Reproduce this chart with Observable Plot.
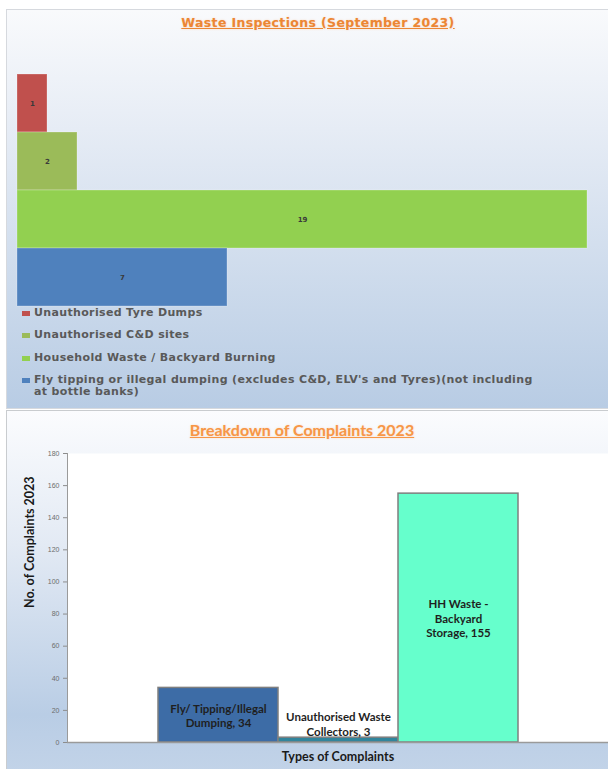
<!DOCTYPE html>
<html>
<head>
<meta charset="utf-8">
<script src="https://cdn.jsdelivr.net/npm/d3@7"></script>
<script src="https://cdn.jsdelivr.net/npm/@observablehq/plot@0.6"></script>
<style>
  html, body { margin: 0; padding: 0; background: #fff; }
  #wrap { position: relative; width: 608px; height: 769px; overflow: hidden; background: #fff; }
  .abs { position: absolute; }
  .panel1 { left: 6px; top: 9px; width: 620px; height: 398px; border: 1px solid #d6d9de;
            background: linear-gradient(#f9fafc 0%, #e6ecf5 30%, #b8cce4 100%); }
  .panel2 { left: 6px; top: 410px; width: 620px; height: 380px; border: 1px solid #c9cccf; border-bottom: none;
            background: linear-gradient(#fbfcfe 0%, #e3eaf4 35%, #b9cde5 80%, #c5d5e9 100%); }
  .title1 { left: 60px; width: 516px; top: 15px; text-align: center; font: bold 12.5px "DejaVu Sans", sans-serif;
            letter-spacing: 0.35px; color: #ec8634; text-decoration: underline; text-shadow: 0 0 2px rgba(247,150,70,0.35); }
  .title2 { left: 100px; width: 404px; top: 420px; text-align: center; font: bold 16px Lato, sans-serif;
            color: #f79646; text-decoration: underline; text-shadow: 0 0 2px rgba(247,150,70,0.35); }
  .leg { font: bold 11px "DejaVu Sans", sans-serif; letter-spacing: 0.35px; color: #595959; line-height: 12px; }
  .sw { position: absolute; width: 8px; height: 5px; }
  .chart svg { overflow: visible; background: transparent; }
</style>
</head>
<body>
<div id="wrap">
  <div class="abs panel1"></div>
  <div class="abs panel2"></div>
  <div class="abs title1">Waste Inspections (September 2023)</div>
  <div class="abs title2">Breakdown of Complaints 2023</div>
  <div id="chart1" class="abs chart" style="left:6px;top:9px;"></div>
  <div id="legend1"></div>
  <div id="chart2" class="abs chart" style="left:6px;top:411px;"></div>
</div>
<script>
// ---- Data: Waste Inspections (September 2023)
const inspCategories = [
  "Unauthorised Tyre Dumps",
  "Unauthorised C&D sites",
  "Household Waste / Backyard Burning",
  "Fly tipping or illegal dumping (excludes C&D, ELV's and Tyres)(not including at bottle banks)"
];
const inspValues = [1, 2, 19, 7];
const inspColors = ["#c0504d", "#9bbb59", "#92d050", "#4f81bd"];

// ---- Data: Breakdown of Complaints 2023
const complaintCategories = [
  "Fly/ Tipping/Illegal\nDumping",
  "Unauthorised Waste\nCollectors",
  "HH Waste -\nBackyard\nStorage"
];
const complaintValues = [34, 3, 155];
const complaintColors = ["#3d6ca6", "#31859c", "#66ffcc"];
const complaintTicks = [0, 20, 40, 60, 80, 100, 120, 140, 160, 180];

const insp = inspCategories.map((c, i) => ({cat: c, value: inspValues[i]}));
const comp = complaintCategories.map((c, i) => ({cat: c, value: complaintValues[i]}));

// ---- Chart 1
const chart1 = Plot.plot({
  width: 602,
  height: 300,
  marginLeft: 11,
  marginRight: 21,
  marginTop: 64,
  marginBottom: 3,
  style: {background: "transparent", overflow: "visible"},
  x: {domain: [0, 19], axis: null},
  y: {domain: inspCategories, axis: null, padding: 0},
  color: {domain: inspCategories, range: inspColors},
  marks: [
    Plot.barX(insp, {y: "cat", x: "value", fill: "cat", stroke: "#ffffff", strokeOpacity: 0.25, strokeWidth: 1}),
    Plot.text(insp, {y: "cat", x: d => d.value / 2, text: d => String(d.value),
      fontSize: 7, fontWeight: "bold", fill: "#3a3a3a", fontFamily: "DejaVu Sans"})
  ]
});
document.getElementById("chart1").appendChild(chart1);

// ---- Legend 1 (HTML, built from the data arrays)
const leg = document.getElementById("legend1");
inspCategories.forEach((c, i) => {
  const top = 306.5 + i * 22.5;
  const sw = document.createElement("div");
  sw.className = "sw";
  sw.style.left = "22px";
  sw.style.top = (top + 4) + "px";
  sw.style.background = inspColors[i];
  leg.appendChild(sw);
  const t = document.createElement("div");
  t.className = "abs leg";
  t.style.left = "34px";
  t.style.top = top + "px";
  t.style.width = "508px";
  t.textContent = c;
  leg.appendChild(t);
});

// ---- Chart 2
const chart2 = Plot.plot({
  width: 602,
  height: 358,
  marginLeft: 61,
  marginRight: 0,
  marginTop: 42,
  marginBottom: 27,
  style: {background: "transparent", overflow: "visible"},
  x: {domain: complaintCategories, type: "band", paddingInner: 0, paddingOuter: 0.736, axis: null},
  y: {domain: [0, 180], axis: null},
  color: {domain: complaintCategories, range: complaintColors},
  marks: [
    Plot.frame({fill: "white", stroke: null}),
    Plot.axisY({ticks: complaintTicks, tickSize: 4, tickPadding: 4, fontSize: 7, label: null,
      stroke: "#8c8c8c", color: "#6d6d6d", fontFamily: "Liberation Sans"}),
    Plot.frame({anchor: "left", stroke: "#9a9a9a"}),
    Plot.barY(comp, {x: "cat", y: "value", fill: "cat", stroke: "#7f7f7f", strokeWidth: 1.5}),
    Plot.ruleY([0], {stroke: "#9a9a9a", strokeWidth: 1.5}),
    Plot.text(comp.filter(d => d.value >= 10), {x: "cat", y: d => d.value / 2,
      text: d => d.cat + ", " + d.value, fontSize: 11.5, fontWeight: "bold", lineHeight: 1.25,
      fill: "#1f1f1f", fontFamily: "Lato"}),
    Plot.text(comp.filter(d => d.value < 10), {x: "cat", y: "value",
      text: d => d.cat + ", " + d.value, fontSize: 11.5, fontWeight: "bold", lineHeight: 1.25,
      lineAnchor: "bottom", dy: -2, fill: "#1f1f1f", fontFamily: "Lato"}),
    Plot.text(["Types of Complaints"], {frameAnchor: "bottom", dy: 18, fontSize: 12.5,
      fontWeight: "bold", fill: "#1a1a1a", fontFamily: "Lato"}),
    Plot.text(["No. of Complaints 2023"], {frameAnchor: "left", dx: -38, dy: 10, rotate: -90,
      fontSize: 12.5, fontWeight: "bold", fill: "#1a1a1a", fontFamily: "Lato"})
  ]
});
document.getElementById("chart2").appendChild(chart2);
</script>
</body>
</html>
